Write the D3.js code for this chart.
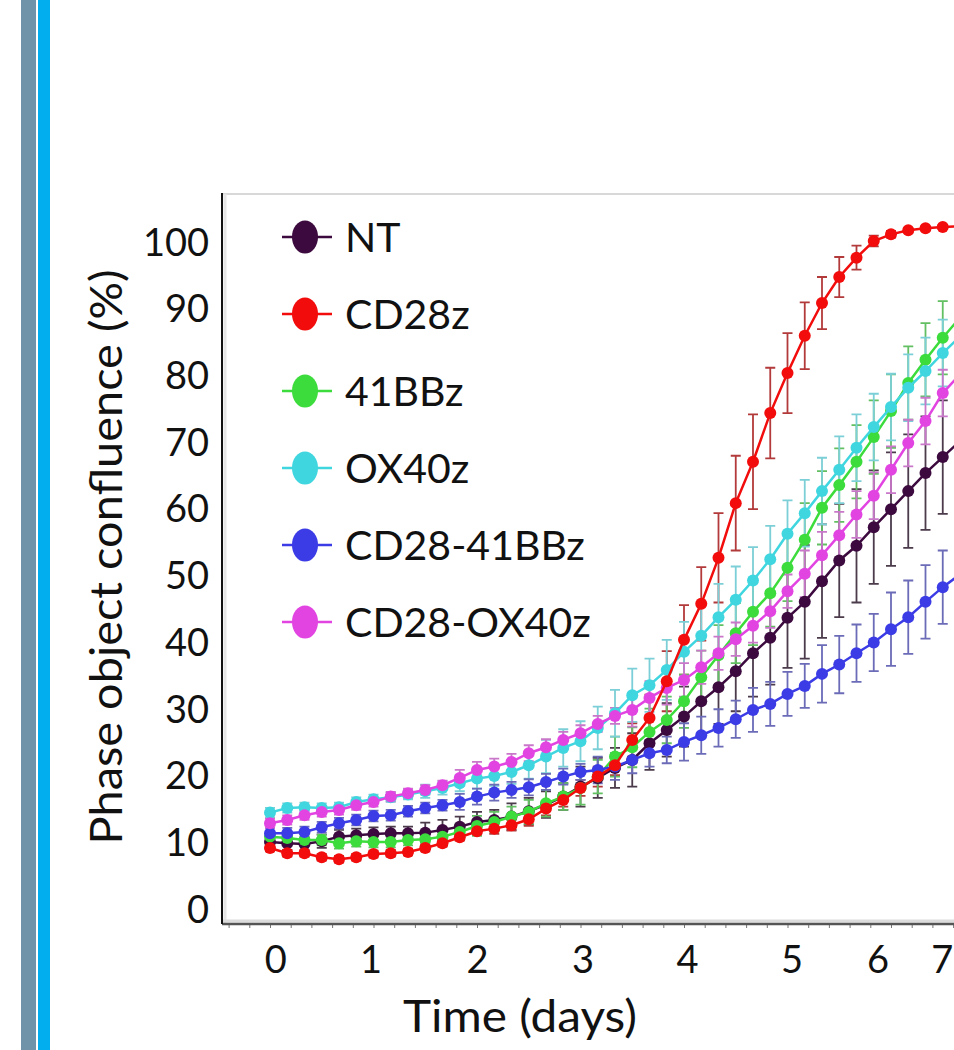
<!DOCTYPE html>
<html>
<head>
<meta charset="utf-8">
<script src="https://cdn.jsdelivr.net/npm/d3@7"></script>
<style>
  html, body { margin: 0; padding: 0; background: #fff; }
  svg { display: block; font-family: Lato, "Open Sans", sans-serif; }
</style>
</head>
<body>
<div id="chart"></div>
<script>
// sampling times (hours) for every point
var hours = [0, 4, 8, 12, 16, 20, 24, 28, 32, 36, 40, 44, 48, 52, 56, 60, 64, 68, 72, 76,
             80, 84, 88, 92, 96, 100, 104, 108, 112, 116, 120, 124, 128, 132, 136, 140, 144, 148, 152, 156, 160];

var seriesNames = ["NT", "CD28z", "41BBz", "OX40z", "CD28-41BBz", "CD28-OX40z"];

// mean confluence (%)
var ntVals = [10.2, 10.0, 9.9, 10.3, 11.0, 11.2, 11.4, 11.5, 11.5, 11.6,
              12.0, 12.5, 13.2, 13.5, 14.0, 14.8, 15.8, 17.0, 18.5, 19.8,
              21.3, 22.5, 25.0, 27.0, 29.0, 31.3, 33.4, 35.8, 38.5, 40.8,
              43.8, 46.2, 49.3, 52.4, 54.6, 57.4, 60.1, 62.8, 65.5, 67.9, 70.3];
var cd28zVals = [9.3, 8.5, 8.5, 7.9, 7.6, 7.9, 8.4, 8.5, 8.7, 9.3,
                 10.0, 10.9, 11.8, 12.2, 12.7, 13.6, 15.2, 16.5, 18.3, 20.0,
                 21.7, 25.5, 28.8, 34.3, 40.5, 45.9, 52.8, 61.0, 67.2, 74.5,
                 80.5, 86.1, 91.0, 94.9, 97.8, 100.3, 101.3, 101.9, 102.2, 102.4, 102.5];
var bbzVals = [11.0, 10.8, 10.5, 10.5, 10.0, 10.3, 10.2, 10.2, 10.5, 10.6,
               11.0, 11.7, 12.6, 13.2, 14.0, 14.7, 16.0, 17.0, 18.3, 20.0,
               23.0, 24.4, 26.7, 28.5, 31.3, 34.9, 38.2, 41.5, 44.7, 47.5,
               51.3, 55.5, 60.3, 63.7, 67.2, 70.9, 74.8, 79.0, 82.5, 85.8, 88.8];
var ox40zVals = [14.6, 15.3, 15.4, 15.3, 15.4, 16.2, 16.6, 16.9, 17.3, 17.8,
                 18.3, 19.0, 19.7, 20.1, 20.7, 21.7, 23.0, 24.3, 25.3, 27.3,
                 29.5, 32.2, 33.7, 36.0, 38.7, 41.1, 43.9, 46.5, 49.4, 52.6,
                 56.4, 59.5, 62.8, 66.0, 69.3, 72.4, 75.4, 78.3, 80.8, 83.5, 86.0];
var cd28bbVals = [11.5, 11.5, 11.7, 12.4, 13.0, 13.5, 14.1, 14.2, 14.8, 15.3,
                  15.7, 16.2, 17.0, 17.6, 18.0, 18.4, 19.2, 20.0, 20.7, 21.0,
                  21.5, 22.5, 23.5, 24.0, 25.2, 26.2, 27.3, 28.6, 30.0, 30.9,
                  32.4, 33.6, 35.4, 36.8, 38.5, 40.1, 42.1, 43.9, 46.2, 48.4, 50.3];
var cd28oxVals = [13.0, 13.5, 14.2, 14.7, 15.0, 15.7, 16.2, 17.0, 17.5, 18.0,
                  18.7, 19.8, 21.0, 21.5, 22.2, 23.5, 24.4, 25.5, 26.5, 27.9,
                  29.1, 30.0, 31.8, 33.3, 34.5, 36.4, 38.5, 40.6, 42.6, 44.8,
                  47.8, 50.4, 53.2, 56.2, 59.3, 62.1, 66.0, 70.0, 73.3, 77.5, 80.3];

// error (+/-)
var ntErr = [1, 1, 1, 1, 1, 1, 1, 1, 1, 1.5,
             1.5, 1.5, 1.5, 1.5, 2, 2, 2, 2, 3, 3,
             3, 4, 4, 4, 4.5, 5, 5.5, 6, 6.5, 7,
             7.5, 8.5, 8.5, 8.5, 8.5, 8.5, 8.5, 8.5, 8.5, 8.5, 8.5];
var cd28zErr = [0.5, 0.5, 0.5, 0.5, 0.5, 0.5, 0.5, 0.5, 0.5, 0.5,
                0.5, 0.5, 0.5, 0.8, 0.8, 1, 1, 1, 1.2, 1.5,
                1.5, 2.5, 3.5, 4.5, 5.2, 5.5, 6.7, 7.1, 7.1, 6.8,
                6, 5, 3.9, 3, 1.8, 0.8, 0.5, 0.3, 0.3, 0.3, 0.3];
var bbzErr = [0.8, 0.8, 0.8, 0.8, 0.8, 0.8, 0.8, 0.8, 0.8, 1,
              1, 1.2, 1.5, 1.5, 1.5, 1.8, 2, 2, 2.5, 2.5,
              3, 3, 3.5, 3.5, 4, 4, 4.5, 4.5, 5, 5,
              5, 5.5, 5.5, 5.5, 5.5, 5.5, 5.5, 5.5, 5.5, 5.5, 5.5];
var ox40zErr = [0.7, 0.7, 0.7, 0.7, 0.7, 0.7, 0.7, 0.7, 0.7, 1,
                1, 1.2, 1.5, 1.5, 1.8, 2, 2.5, 2.8, 3, 3.2,
                3.5, 4, 4, 4.5, 4.5, 4.8, 5, 5, 5, 5,
                5, 5, 5, 5, 5, 5, 5, 5, 5, 5, 5];
var cd28bbErr = [0.8, 0.8, 0.8, 0.8, 0.8, 0.8, 0.8, 0.8, 0.8, 0.8,
                 0.8, 1.2, 1.2, 1.2, 1.2, 1.2, 1.2, 1.2, 1.2, 2,
                 2, 2, 2, 2, 2.8, 2.8, 2.8, 2.8, 3.3, 3.3,
                 3.3, 3.3, 4.3, 4.3, 4.3, 4.3, 5.5, 5.5, 5.5, 5.5, 5.5];
var cd28oxErr = [0.7, 0.7, 0.7, 0.7, 0.7, 0.7, 0.7, 0.7, 0.7, 0.7,
                 0.7, 1.2, 1.2, 1.2, 1.2, 1.2, 1.2, 1.2, 1.2, 1.2,
                 1.2, 2.5, 2.5, 2.5, 2.5, 2.5, 2.5, 2.5, 2.5, 2.5,
                 2.5, 3.5, 3.5, 3.5, 3.5, 3.5, 3.5, 3.5, 3.5, 3.5, 3.5];

var yTicks = [0, 10, 20, 30, 40, 50, 60, 70, 80, 90, 100];
// day labels as they sit under the axis in the figure
var xTickLabels = ["0", "1", "2", "3", "4", "5", "6", "7"];
var xTickDays = [0.05, 0.97, 2.0, 3.02, 4.03, 5.04, 5.87, 6.49];

var lineColors = ["#3c0a3e", "#f20c0c", "#3ddc3d", "#40d6df", "#3c3ce6", "#e244e2"];
var barColors  = ["#4b3b4b", "#b33a3a", "#62bf62", "#7ccfd6", "#6b6bb8", "#c977c9"];

var allVals = [ntVals, cd28zVals, bbzVals, ox40zVals, cd28bbVals, cd28oxVals];
var allErr  = [ntErr, cd28zErr, bbzErr, ox40zErr, cd28bbErr, cd28oxErr];

var series = seriesNames.map(function(name, k) {
  return {
    name: name, line: lineColors[k], bar: barColors[k],
    points: hours.map(function(h, i) { return {day: h / 24, v: allVals[k][i], e: allErr[k][i]}; })
  };
});

var W = 954, H = 1050;
var svg = d3.select("#chart").append("svg")
    .attr("width", W).attr("height", H);

svg.append("rect").attr("width", W).attr("height", H).attr("fill", "#fff");

// page border strips on the left
svg.append("rect").attr("x", 21).attr("y", 0).attr("width", 15).attr("height", H).attr("fill", "#7193aa");
svg.append("rect").attr("x", 38).attr("y", 0).attr("width", 12).attr("height", H).attr("fill", "#03aeef");

var x = d3.scaleLinear().domain([0, 7]).range([270, 270 + 7 * 103.5]);
var y = d3.scaleLinear().domain([0, 100]).range([910, 243]);

var frameLeft = 222, frameTop = 194, frameBottom = 924;

// frame
svg.append("line").attr("x1", frameLeft).attr("x2", W).attr("y1", frameTop).attr("y2", frameTop)
  .attr("stroke", "#d8d8d8").attr("stroke-width", 2);
svg.append("line").attr("x1", frameLeft + 3).attr("x2", frameLeft + 3).attr("y1", frameTop).attr("y2", frameBottom)
  .attr("stroke", "#e6e6e6").attr("stroke-width", 3);
svg.append("line").attr("x1", frameLeft).attr("x2", W).attr("y1", frameBottom - 3).attr("y2", frameBottom - 3)
  .attr("stroke", "#dcdcdc").attr("stroke-width", 3);

// minor ticks on the time axis
var minor = svg.append("g")
  .attr("transform", `translate(0,${frameBottom})`)
  .call(d3.axisBottom(x).tickValues(d3.range(-2, 34).map(function(k) { return k * 0.2; })).tickSize(4).tickFormat(""));
minor.select(".domain").remove();
minor.selectAll(".tick line").attr("stroke", "#777").attr("stroke-width", 1);

svg.append("line").attr("x1", frameLeft).attr("x2", W).attr("y1", frameBottom).attr("y2", frameBottom)
  .attr("stroke", "#555").attr("stroke-width", 2.5);
svg.append("line").attr("x1", frameLeft).attr("x2", frameLeft).attr("y1", frameTop - 1).attr("y2", frameBottom)
  .attr("stroke", "#111").attr("stroke-width", 2);

// x labels
var xAxis = svg.append("g")
  .attr("transform", `translate(0,${frameBottom})`)
  .call(d3.axisBottom(x).tickValues(xTickDays).tickSize(0).tickPadding(22)
    .tickFormat(function(d, i) { return xTickLabels[i]; }));
xAxis.select(".domain").remove();
xAxis.selectAll("text").attr("fill", "#111").style("font-size", "38px").style("font-family", "Lato, sans-serif");

// y labels
var yAxis = svg.append("g")
  .attr("transform", `translate(${frameLeft},0)`)
  .call(d3.axisLeft(y).tickValues(yTicks).tickSize(0).tickPadding(13));
yAxis.select(".domain").remove();
yAxis.selectAll("text").attr("fill", "#111").style("font-size", "38px").style("font-family", "Lato, sans-serif");

// axis titles
svg.append("text")
  .attr("x", 520).attr("y", 1032)
  .attr("text-anchor", "middle")
  .attr("textLength", 234).attr("lengthAdjust", "spacingAndGlyphs")
  .style("font-size", "44px").attr("fill", "#111")
  .text("Time (days)");

svg.append("text")
  .attr("transform", "translate(122,557) rotate(-90)")
  .attr("text-anchor", "middle")
  .attr("textLength", 575).attr("lengthAdjust", "spacingAndGlyphs")
  .style("font-size", "44px").attr("fill", "#111")
  .text("Phase object confluence (%)");

// error bars
var capW = 5;
series.forEach(function(s) {
  var g = svg.append("g").attr("stroke", s.bar).attr("stroke-width", 1.8).attr("fill", "none");
  g.selectAll(".eb").data(s.points).join("path")
    .attr("d", function(d) {
      var px = x(d.day), t = y(d.v + d.e), b = y(d.v - d.e);
      return `M${px - capW},${t}H${px + capW}M${px},${t}V${b}M${px - capW},${b}H${px + capW}`;
    });
});

// lines + markers
var drawOrder = ["NT", "41BBz", "OX40z", "CD28-41BBz", "CD28-OX40z", "CD28z"];
var line = d3.line().x(function(d) { return x(d.day); }).y(function(d) { return y(d.v); });
drawOrder.forEach(function(name) {
  var s = series.find(function(q) { return q.name === name; });
  svg.append("path").datum(s.points)
    .attr("d", line).attr("fill", "none").attr("stroke", s.line).attr("stroke-width", 2.5);
  svg.selectAll(null).data(s.points).join("circle")
    .attr("cx", function(d) { return x(d.day); })
    .attr("cy", function(d) { return y(d.v); })
    .attr("r", 6).attr("fill", s.line);
});

// legend
var legend = svg.append("g");
series.forEach(function(s, i) {
  var ly = 237 + i * 77;
  legend.append("line").attr("x1", 282).attr("x2", 332).attr("y1", ly).attr("y2", ly)
    .attr("stroke", s.line).attr("stroke-width", 2.5);
  legend.append("ellipse").attr("cx", 305).attr("cy", ly).attr("rx", 13).attr("ry", 16.5)
    .attr("fill", s.line);
  legend.append("text").attr("x", 345).attr("y", ly + 15)
    .style("font-size", "41px").attr("fill", "#111")
    .text(s.name);
});
</script>
</body>
</html>
